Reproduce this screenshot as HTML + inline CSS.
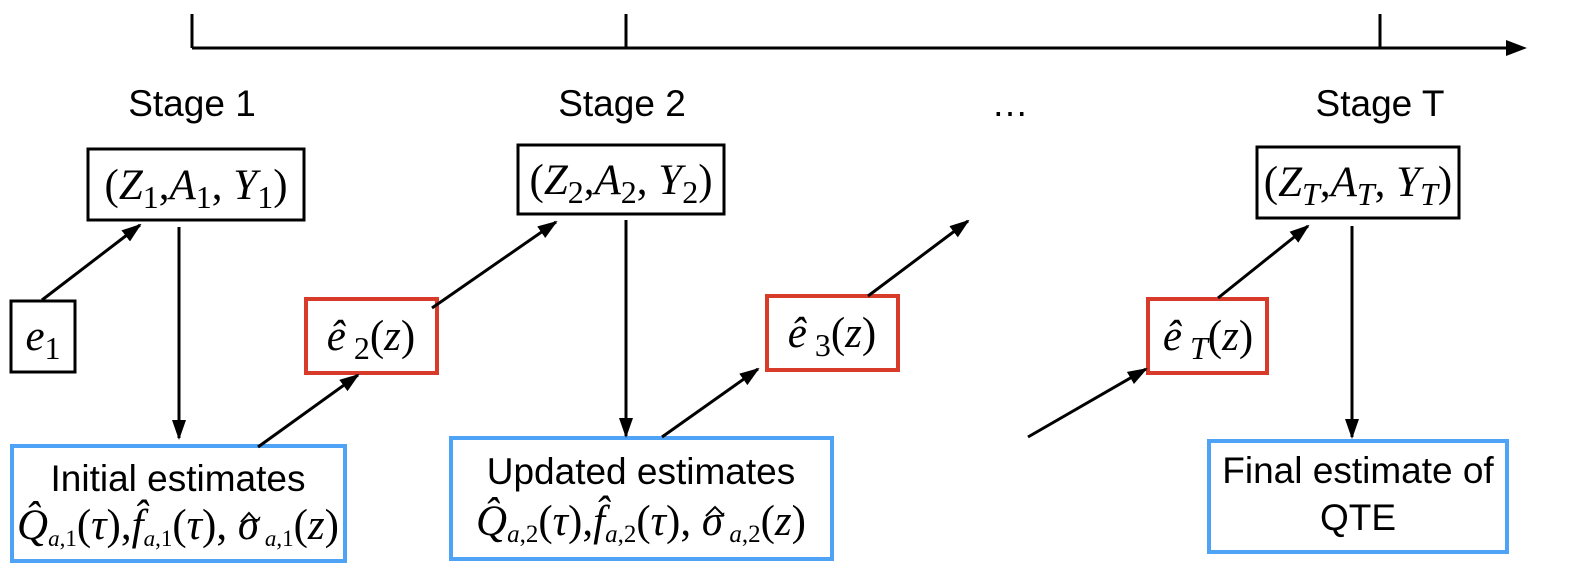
<!DOCTYPE html>
<html><head><meta charset="utf-8"><style>
body{margin:0;background:#fff;width:1585px;height:579px;overflow:hidden}
svg{display:block}
.s{font-family:"Liberation Sans",sans-serif;font-size:37px;fill:#000}
.m{font-family:"Liberation Serif",serif;font-style:italic;font-size:43px;fill:#000}
.r{font-style:normal}
</style></head><body>
<svg width="1585" height="579">
<defs><marker id="ah" markerWidth="20" markerHeight="14" refX="18" refY="7" orient="auto" markerUnits="userSpaceOnUse"><path d="M0,0 L20,7 L0,14 z" fill="#000"/></marker></defs>
<g stroke="#000" stroke-width="3">
<line x1="192" y1="48" x2="1512" y2="48"/>
<path d="M1506,40 L1527,48 L1506,56 z" fill="#000" stroke="none"/>
<line x1="192" y1="14" x2="192" y2="48"/><line x1="626" y1="14" x2="626" y2="48"/><line x1="1380" y1="14" x2="1380" y2="48"/>
</g>
<text class="s" x="192" y="116" text-anchor="middle">Stage 1</text>
<text class="s" x="622" y="116" text-anchor="middle">Stage 2</text>
<text class="s" x="1010" y="116" text-anchor="middle">…</text>
<text class="s" x="1380" y="116" text-anchor="middle">Stage T</text>

<g fill="none" stroke="#000" stroke-width="3">
<rect x="88" y="149" width="216" height="71"/>
<rect x="518" y="145" width="206" height="69"/>
<rect x="1257" y="147" width="202" height="71"/>
<rect x="11" y="301" width="64" height="71"/>
</g>
<g fill="none" stroke="#d93b2b" stroke-width="4">
<rect x="306" y="299" width="131" height="74"/>
<rect x="767" y="296" width="131" height="74"/>
<rect x="1148" y="299" width="119" height="74"/>
</g>
<g fill="none" stroke="#4fa3f7" stroke-width="4">
<rect x="12" y="446" width="333" height="115"/>
<rect x="451" y="438" width="381" height="121"/>
<rect x="1209" y="441" width="298" height="111"/>
</g>

<text class="m" x="196" y="199" text-anchor="middle"><tspan class="r">(</tspan>Z<tspan class="r" font-size="32" dy="9">1</tspan><tspan class="r" dy="-9">,</tspan>A<tspan class="r" font-size="32" dy="9">1</tspan><tspan class="r" dy="-9">, </tspan>Y<tspan class="r" font-size="32" dy="9">1</tspan><tspan class="r" dy="-9">)</tspan></text>
<text class="m" x="621" y="194" text-anchor="middle"><tspan class="r">(</tspan>Z<tspan class="r" font-size="32" dy="9">2</tspan><tspan class="r" dy="-9">,</tspan>A<tspan class="r" font-size="32" dy="9">2</tspan><tspan class="r" dy="-9">, </tspan>Y<tspan class="r" font-size="32" dy="9">2</tspan><tspan class="r" dy="-9">)</tspan></text>
<text class="m" x="1358" y="196" text-anchor="middle"><tspan class="r">(</tspan>Z<tspan font-size="32" dy="9">T</tspan><tspan class="r" dy="-9">,</tspan>A<tspan font-size="32" dy="9">T</tspan><tspan class="r" dy="-9">, </tspan>Y<tspan font-size="32" dy="9">T</tspan><tspan class="r" dy="-9">)</tspan></text>
<text class="m" x="43" y="350" text-anchor="middle">e<tspan class="r" font-size="32" dy="9">1</tspan></text>
<text class="m" x="371" y="350" text-anchor="middle">ê<tspan class="r" font-size="32" dy="9"> 2</tspan><tspan class="r" dy="-9">(</tspan>z<tspan class="r">)</tspan></text>
<text class="m" x="832" y="347" text-anchor="middle">ê<tspan class="r" font-size="32" dy="9"> 3</tspan><tspan class="r" dy="-9">(</tspan>z<tspan class="r">)</tspan></text>
<text class="m" x="1208" y="350" text-anchor="middle">ê<tspan font-size="32" dy="9"> T</tspan><tspan class="r" dy="-9">(</tspan>z<tspan class="r">)</tspan></text>

<text class="s" x="178" y="491" text-anchor="middle" font-size="36">Initial estimates</text>
<text class="m" x="178" y="539" text-anchor="middle" font-size="33">Q̂<tspan font-size="23" dy="7">a</tspan><tspan class="r" font-size="23">,1</tspan><tspan class="r" dy="-7">(</tspan>τ<tspan class="r">),</tspan>f̂<tspan font-size="23" dy="7">a</tspan><tspan class="r" font-size="23">,1</tspan><tspan class="r" dy="-7">(</tspan>τ<tspan class="r">), </tspan>σ<tspan font-size="23" dy="7"> a</tspan><tspan class="r" font-size="23">,1</tspan><tspan class="r" dy="-7">(</tspan>z<tspan class="r">)</tspan></text>
<path d="M241,522 L249,513 L257,522" fill="none" stroke="#000" stroke-width="2"/>
<text class="s" x="641" y="484" text-anchor="middle" font-size="36">Updated estimates</text>
<text class="m" x="641" y="535" text-anchor="middle" font-size="36">Q̂<tspan font-size="25" dy="7">a</tspan><tspan class="r" font-size="25">,2</tspan><tspan class="r" dy="-7">(</tspan>τ<tspan class="r">),</tspan>f̂<tspan font-size="25" dy="7">a</tspan><tspan class="r" font-size="25">,2</tspan><tspan class="r" dy="-7">(</tspan>τ<tspan class="r">), </tspan>σ<tspan font-size="25" dy="7"> a</tspan><tspan class="r" font-size="25">,2</tspan><tspan class="r" dy="-7">(</tspan>z<tspan class="r">)</tspan></text>
<path d="M706,516 L715,507 L724,516" fill="none" stroke="#000" stroke-width="2"/>
<text class="s" x="1358" y="483" text-anchor="middle" font-size="34">Final estimate of</text>
<text class="s" x="1358" y="530" text-anchor="middle" font-size="34">QTE</text>

<g stroke="#000" stroke-width="3" marker-end="url(#ah)">
<line x1="42" y1="300" x2="140" y2="225"/>
<line x1="179" y1="227" x2="179" y2="438"/>
<line x1="258" y1="447" x2="358" y2="375"/>
<line x1="432" y1="308" x2="556" y2="222"/>
<line x1="626" y1="220" x2="626" y2="436"/>
<line x1="662" y1="437" x2="758" y2="369"/>
<line x1="868" y1="296" x2="968" y2="221"/>
<line x1="1028" y1="437" x2="1146" y2="369"/>
<line x1="1218" y1="298" x2="1308" y2="226"/>
<line x1="1352" y1="226" x2="1352" y2="437"/>
</g>
</svg>
</body></html>
